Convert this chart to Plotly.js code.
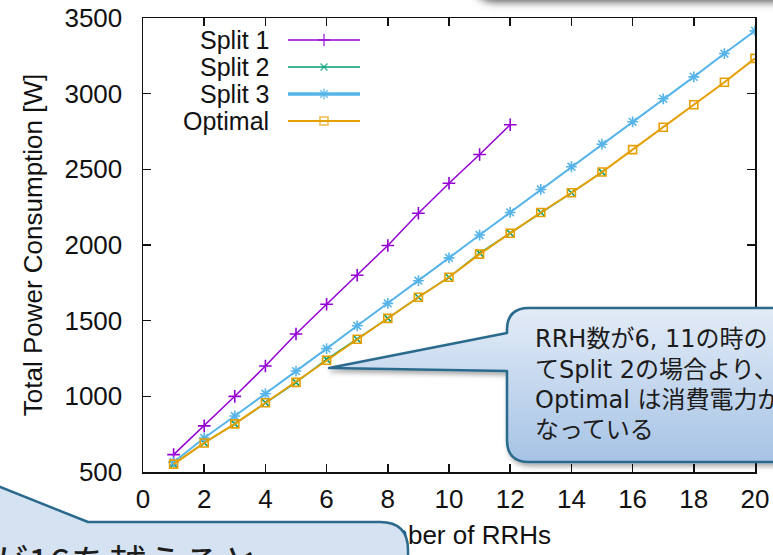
<!DOCTYPE html>
<html><head><meta charset="utf-8">
<script src="https://cdn.plot.ly/plotly-3.0.1.min.js"></script>
<style>html,body{margin:0;padding:0;background:#fff;overflow:hidden}#chart{width:773px;height:555px;}</style>
</head><body><div id="chart"></div>
<script>
// ---- data ----
const rrhSplit1 = [1,2,3,4,5,6,7,8,9,10,11,12];
const powerSplit1 = [615,805,1000,1200,1412,1608,1800,1997,2210,2408,2598,2795];
const rrhSplit2 = [1,2,3,4,5,6,7,8,9,10,11,12,13,14,15];
const powerSplit2 = [552,692,818,958,1092,1244,1377,1515,1655,1787,1946,2078,2215,2345,2482];
const rrhSplit3 = [1,2,3,4,5,6,7,8,9,10,11,12,13,14,15,16,17,18,19,20];
const powerSplit3 = [565,725,870,1017,1167,1315,1466,1614,1764,1915,2066,2215,2367,2517,2666,2814,2966,3111,3265,3415];
const rrhOptimal = [1,2,3,4,5,6,7,8,9,10,11,12,13,14,15,16,17,18,19,20];
const powerOptimal = [552,692,818,958,1092,1238,1377,1515,1655,1787,1940,2078,2215,2345,2482,2630,2778,2927,3075,3233];
const seriesNames = ['Split 1','Split 2','Split 3','Optimal'];
const xTickVals = [0,2,4,6,8,10,12,14,16,18,20];
const yTickVals = [500,1000,1500,2000,2500,3000,3500];
const xTitle = 'Number of RRHs';
const yTitle = 'Total Power Consumption [W]';

// ---- styles / layout constants ----
const W = 773, H = 555;
const L = 143, R = 755, T = 18, B = 472;
const colors = ['#9400d3','#009e73','#56b4e9','#e69f00'];
const symbols = ['cross-thin-open','x-thin-open','asterisk-open','square-open'];
const msizes = [9,7,9,8];
const lwidths = [1.5,1.5,2,2];
const legendLineW = [1.5,1.5,3.5,2.2];
const font = 'Liberation Sans, Arial, sans-serif';
const jp = 'DejaVu Sans, Noto Sans CJK JP, sans-serif';
const px = x => (x - L) / (R - L);
const py = y => (B - y) / (B - T);

const xs = [rrhSplit1, rrhSplit2, rrhSplit3, rrhOptimal];
const ys = [powerSplit1, powerSplit2, powerSplit3, powerOptimal];

const data = [];
for (let i = 0; i < 4; i++) {
  data.push({
    x: xs[i], y: ys[i], type: 'scatter', mode: 'lines+markers', name: seriesNames[i],
    line: {color: colors[i], width: lwidths[i]},
    marker: {symbol: symbols[i], size: msizes[i], color: colors[i], line: {color: colors[i], width: 1.6}},
    showlegend: false, hoverinfo: 'skip'
  });
}
// manual gnuplot-style key (text left of sample), placed in pixel space on hidden overlay axes
const keyRows = [40, 67, 94, 121];
const keySample = [288, 324, 360];
const annotations = [];
for (let i = 0; i < 4; i++) {
  data.push({
    x: keySample, y: keySample.map(() => keyRows[i]), xaxis: 'x2', yaxis: 'y2',
    type: 'scatter', mode: 'lines+markers', showlegend: false, hoverinfo: 'skip',
    line: {color: colors[i], width: legendLineW[i]},
    marker: {symbol: symbols[i], size: [0, msizes[i], 0], color: colors[i], line: {color: colors[i], width: 1.6}}
  });
  annotations.push({
    xref: 'paper', yref: 'paper', x: px(271), y: py(keyRows[i]), xanchor: 'right', yanchor: 'middle',
    text: seriesNames[i], showarrow: false, font: {family: font, size: 25, color: '#111'}
  });
}
// callout texts
const calloutLines = ['RRH数が6, 11の時の', 'てSplit 2の場合より、', 'Optimal は消費電力が', 'なっている'];
const calloutY = [339, 369.5, 400, 430];
calloutLines.forEach((t, i) => annotations.push({
  xref: 'paper', yref: 'paper', x: px(533), y: py(calloutY[i]), xanchor: 'left', yanchor: 'middle',
  text: t, showarrow: false, font: {family: jp, size: 24, color: '#1c1c1c'}
}));
annotations.push({
  xref: 'paper', yref: 'paper', x: px(-12), y: py(560), xanchor: 'left', yanchor: 'middle',
  text: 'が16を越えると', showarrow: false, font: {family: 'Noto Sans CJK JP, sans-serif', size: 38, color: '#1c1c1c'}
});

const svg = `<svg xmlns="http://www.w3.org/2000/svg" width="${W}" height="${H}" viewBox="0 0 ${W} ${H}">
<defs>
<linearGradient id="g1" x1="0" y1="0" x2="0" y2="1">
<stop offset="0" stop-color="#e3ecf7"/><stop offset="1" stop-color="#a6c3e5"/></linearGradient>
<filter id="sh" x="-20%" y="-20%" width="140%" height="140%"><feDropShadow dx="2" dy="3" stdDeviation="2.5" flood-color="#000" flood-opacity="0.35"/></filter>
<filter id="bl" x="-20%" y="-50%" width="140%" height="200%"><feGaussianBlur stdDeviation="4"/></filter>
</defs>
<rect x="472" y="-60" width="340" height="62" rx="22" fill="#5a5a5a" filter="url(#bl)"/>
<path d="M 529,308 L 810,308 L 810,462 L 529,462 Q 507,462 507,440 L 507,371 L 329,368 L 507,333 L 507,330 Q 507,308 529,308 Z" fill="url(#g1)" stroke="#2b6a8d" stroke-width="2.5" stroke-linejoin="round" filter="url(#sh)"/>
<path d="M -40,471 L 88,522 L 380,522 Q 408,522 408,550 L 408,620 L -40,620 Z" fill="#d5e2f2" stroke="#2b6a8d" stroke-width="2.5" stroke-linejoin="round"/>
</svg>`;

const axisCommon = {
  showline: true, linecolor: '#111', linewidth: 1.5, mirror: 'ticks', ticks: 'inside', ticklen: 8,
  tickwidth: 1.5, tickcolor: '#111', showgrid: false, zeroline: false,
  tickfont: {family: font, size: 26, color: '#111'}
};
const layout = {
  width: W, height: H, margin: {l: L, r: W - R, t: T, b: H - B, pad: 0},
  paper_bgcolor: '#fff', plot_bgcolor: '#fff', showlegend: false,
  xaxis: Object.assign({}, axisCommon, {range: [0, 20], tickvals: xTickVals, ticklabelstandoff: 3}),
  yaxis: Object.assign({}, axisCommon, {range: [500, 3500], tickvals: yTickVals, ticklabelstandoff: 14,
    title: {text: yTitle, font: {family: font, size: 26, color: '#111'}, standoff: 14}}),
  // pixel-space overlay axis; its single label carries the x-axis title so it sits beneath the callout layer
  xaxis2: {overlaying: 'x', anchor: 'y2', side: 'bottom', range: [L, R], fixedrange: true,
    showline: false, showgrid: false, zeroline: false, ticks: '',
    tickvals: [(L + R) / 2 + 3], ticktext: [xTitle], ticklabelstandoff: 45,
    tickfont: {family: font, size: 26, color: '#111'}},
  yaxis2: {overlaying: 'y', anchor: 'x2', range: [B, T], visible: false, fixedrange: true},
  annotations: annotations,
  images: [{
    source: 'data:image/svg+xml;charset=utf-8,' + encodeURIComponent(svg),
    xref: 'paper', yref: 'paper', x: px(0), y: py(0), sizex: W / (R - L), sizey: H / (B - T),
    xanchor: 'left', yanchor: 'top', sizing: 'stretch', layer: 'above'
  }]
};
Plotly.newPlot('chart', data, layout, {staticPlot: true, displayModeBar: false});
</script></body></html>
